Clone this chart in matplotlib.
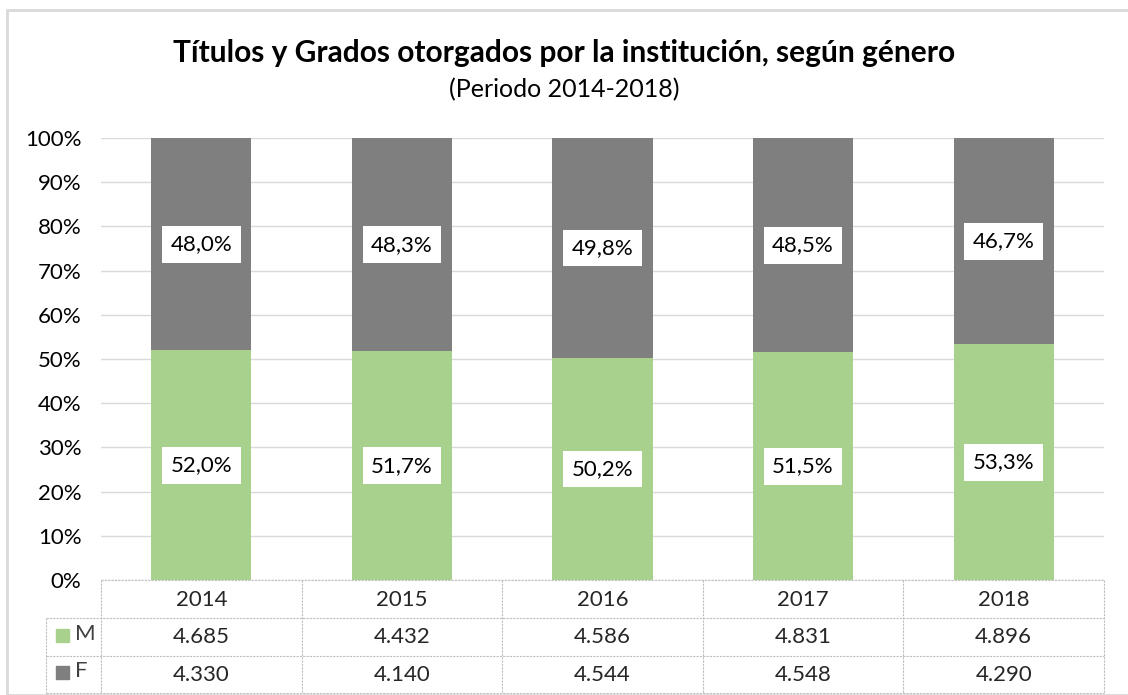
import matplotlib
matplotlib.use("Agg")
import matplotlib.pyplot as plt
import matplotlib.transforms as mtransforms
from matplotlib.patches import Rectangle
import numpy as np

plt.rcParams['font.family'] = ['Lato', 'DejaVu Sans']

years = ['2014', '2015', '2016', '2017', '2018']
masc = [4685, 4432, 4586, 4831, 4896]
fem = [4330, 4140, 4544, 4548, 4290]
series = ['M', 'F']
colors = ['#A9D18E', '#7F7F7F']

W, H = 1128, 695
fig = plt.figure(figsize=(W / 100, H / 100), dpi=100)

# outer chart border
fig.patches.append(Rectangle((7 / W, 0), 1.2, 1 - 10 / H, transform=fig.transFigure,
                             fill=False, edgecolor='#D9D9D9', lw=2, zorder=0))

fig.text(0.5, 1 - 53 / H, 'Títulos y Grados otorgados por la institución, según género',
         ha='center', va='center', fontsize=21.5, fontweight='bold')
fig.text(0.5, 1 - 90 / H, '(Periodo 2014-2018)', ha='center', va='center', fontsize=18)

x0, x1, y0, y1 = 101, 1104, 580, 138
ax = fig.add_axes([x0 / W, 1 - y0 / H, (x1 - x0) / W, (y0 - y1) / H])

m = np.array(masc, dtype=float)
f = np.array(fem, dtype=float)
pm = m / (m + f) * 100
pf = f / (m + f) * 100
x = np.arange(len(years))

ax.bar(x, pm, width=0.5, color=colors[0], zorder=2)
ax.bar(x, pf, width=0.5, bottom=pm, color=colors[1], zorder=2)

fs = 16
box = dict(facecolor='white', edgecolor='none', pad=6)
for i in range(len(years)):
    ax.text(x[i], pm[i] / 2, f'{pm[i]:.1f}%'.replace('.', ','), ha='center', va='center',
            fontsize=fs, bbox=box, zorder=3)
    ax.text(x[i], pm[i] + pf[i] / 2, f'{pf[i]:.1f}%'.replace('.', ','), ha='center', va='center',
            fontsize=fs, bbox=box, zorder=3)

ax.set_xlim(-0.5, len(years) - 0.5)
ax.set_ylim(0, 100)
ax.set_yticks(np.arange(0, 101, 10))
ax.set_yticklabels([f'{v}%' for v in range(0, 101, 10)], fontsize=fs)
ax.set_xticks([])
ax.tick_params(axis='y', length=0, pad=14)
for s in ax.spines.values():
    s.set_visible(False)
ax.yaxis.grid(True, color='#D9D9D9', lw=1, zorder=0)
ax.set_axisbelow(True)

# data table below
trans = mtransforms.blended_transform_factory(ax.transData, ax.transAxes)
ph = y0 - y1
def ya(py):
    return (y0 - py) / ph

rows = [580, 618, 656, 693]
line_kw = dict(color='#BFBFBF', lw=0.8, ls=(0, (2, 1)), clip_on=False)
xl = -0.5 - 55 / 200.0
for r in rows:
    left = -0.5 if r == rows[0] else xl
    ax.plot([left, len(years) - 0.5], [ya(r)] * 2, transform=trans, **line_kw)
for k in range(len(years) + 1):
    ax.plot([k - 0.5] * 2, [ya(rows[0]), ya(rows[-1])], transform=trans, **line_kw)
ax.plot([xl, xl], [ya(rows[1]), ya(rows[-1])], transform=trans, **line_kw)

for i, yr in enumerate(years):
    ax.text(x[i], ya(600), yr, transform=trans, ha='center', va='center', fontsize=fs,
            color='#262626')
    ax.text(x[i], ya(637), f'{masc[i]:,}'.replace(',', '.'), transform=trans,
            ha='center', va='center', fontsize=fs, color='#262626')
    ax.text(x[i], ya(675), f'{fem[i]:,}'.replace(',', '.'), transform=trans,
            ha='center', va='center', fontsize=fs, color='#262626')

for j, (name, c) in enumerate(zip(series, colors)):
    cy = [636, 673][j]
    fig.patches.append(Rectangle((56 / W, 1 - (cy + 6) / H), 13 / W, 13 / H,
                                 transform=fig.transFigure, color=c))
    fig.text(75 / W, 1 - (cy - 2) / H, name, ha='left', va='center', fontsize=fs, color='#404040')

fig.savefig('out.png', dpi=100)
